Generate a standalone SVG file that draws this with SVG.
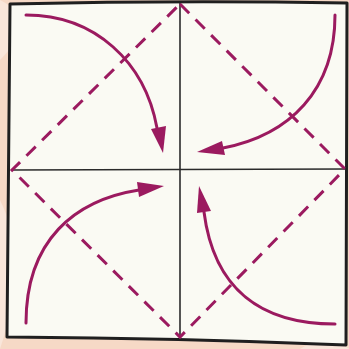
<svg xmlns="http://www.w3.org/2000/svg" width="349" height="349" viewBox="0 0 349 349">
<style>
.fold{stroke:#2a2a2a;stroke-width:1.6;fill:none}
.dash{stroke:#9b1a5f;stroke-width:3;fill:none;stroke-dasharray:13 9}
.arr{stroke:#9b1a5f;stroke-width:3;fill:none;stroke-linecap:round}
.head{fill:#9b1a5f}
</style>
<rect width="349" height="349" fill="#f6d9c6"/>
<path d="M0 60 Q40 20 0 0Z M0 200 Q30 260 0 349Z M300 349 Q330 330 349 349Z" fill="#f9e6da"/>
<g id="paper">
<path d="M10 4 Q180 0 347 3 L346 345 Q180 338 7 337 Z" fill="#fafaf3" stroke="#1f1f1f" stroke-width="3" stroke-linejoin="round"/>
</g>
<g id="folds">
<line class="fold" x1="180" y1="3" x2="180" y2="339"/>
<line class="fold" x1="11" y1="170" x2="346" y2="169"/>
</g>
<g id="diamond">
<path class="dash" d="M180 4 L345 169 L180 337 L12 170 Z"/>
</g>
<g id="connectors">
<path class="arr" d="M26 15 C95 15 145 62 157 128"/>
<polygon class="head" points="151,129 166,126 163,153"/>
<path class="arr" d="M335 15 C335 90 290 135 223 148"/>
<polygon class="head" points="222,141 225,155 197,152"/>
<path class="arr" d="M26 323 C26 240 75 200 139 190"/>
<polygon class="head" points="137,182 139,197 164,186"/>
<path class="arr" d="M335 324 C262 324 214 290 204 212"/>
<polygon class="head" points="197,213 211,211 199,186"/>
</g>
</svg>
